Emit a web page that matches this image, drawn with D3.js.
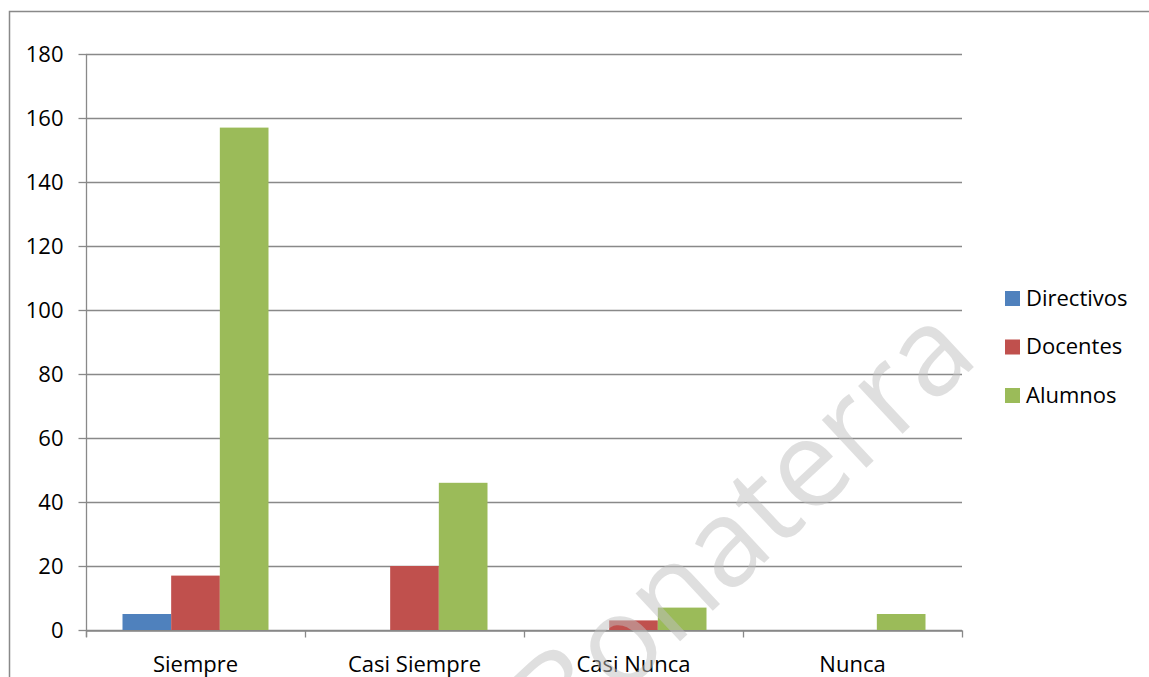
<!DOCTYPE html>
<html>
<head>
<meta charset="utf-8">
<script src="https://cdn.jsdelivr.net/npm/d3@7"></script>
<style>
  html, body { margin: 0; padding: 0; background: #fff; }
  svg { display: block; }
  text { font-family: "Open Sans", sans-serif; fill: #000; }
</style>
</head>
<body>
<svg id="chart" width="1149" height="677"></svg>
<script>
const categories = ["Siempre", "Casi Siempre", "Casi Nunca", "Nunca"];
const seriesNames = ["Directivos", "Docentes", "Alumnos"];
const directivos = [5, 0, 0, 0];
const docentes = [17, 20, 3, 0];
const alumnos = [157, 46, 7, 5];
const yTicks = [0, 20, 40, 60, 80, 100, 120, 140, 160, 180];
const colors = ["#4F81BD", "#C0504D", "#9BBB59"];
const watermark = "Bonaterra";

const seriesValues = [directivos, docentes, alumnos];

const svg = d3.select("#chart");
const plot = { left: 86, right: 962, top: 54, bottom: 630 };
const gridColor = "#898989";

// outer frame
svg.append("rect")
  .attr("x", 9.5).attr("y", 11.5)
  .attr("width", 1200).attr("height", 700)
  .attr("fill", "none").attr("stroke", gridColor).attr("stroke-width", 1.5);

const x0 = d3.scaleBand().domain(categories).range([plot.left, plot.right]).paddingInner(0).paddingOuter(0);
const x1 = d3.scaleBand().domain(seriesNames).range([0, x0.bandwidth()]).paddingInner(0).paddingOuter(0.75);
const y = d3.scaleLinear().domain([0, 180]).range([plot.bottom, plot.top]);

// gridlines
svg.append("g").selectAll("line").data(yTicks).join("line")
  .attr("x1", plot.left).attr("x2", plot.right)
  .attr("y1", d => Math.round(y(d)) + 0.5).attr("y2", d => Math.round(y(d)) + 0.5)
  .attr("stroke", gridColor).attr("stroke-width", 1.3);

// bars
const groups = svg.append("g").selectAll("g").data(categories).join("g")
  .attr("transform", c => `translate(${x0(c)},0)`);
groups.selectAll("rect")
  .data((c, i) => seriesNames.map((s, j) => ({ s, j, v: seriesValues[j][i] })))
  .join("rect")
  .attr("x", d => x1(d.s))
  .attr("width", x1.bandwidth())
  .attr("y", d => y(d.v))
  .attr("height", d => y(0) - y(d.v))
  .attr("fill", d => colors[d.j]);

// y axis
const yAxis = svg.append("g")
  .attr("transform", `translate(${plot.left + 0.5},0)`)
  .call(d3.axisLeft(y).tickValues(yTicks).tickSize(8).tickPadding(15).tickSizeOuter(0));
yAxis.select(".domain").attr("stroke", gridColor).attr("stroke-width", 1.3)
  .attr("d", `M0,${plot.top}V${plot.bottom + 7}`);
yAxis.selectAll(".tick line").attr("stroke", gridColor).attr("stroke-width", 1.3);
yAxis.selectAll(".tick text").attr("font-size", 22).attr("font-family", "'Open Sans', sans-serif").attr("fill", "#000");

// x axis
const xAxis = svg.append("g")
  .attr("transform", `translate(0,${plot.bottom + 0.5})`)
  .call(d3.axisBottom(x0).tickSize(0).tickPadding(26).tickSizeOuter(0));
xAxis.select(".domain").attr("stroke", gridColor).attr("stroke-width", 1.3);
xAxis.selectAll(".tick text").attr("font-size", 22).attr("font-family", "'Open Sans', sans-serif").attr("fill", "#000");
const bounds = categories.map(c => x0(c)).concat([x0(categories[categories.length - 1]) + x0.bandwidth()]);
xAxis.append("g").selectAll("line").data(bounds).join("line")
  .attr("x1", d => Math.round(d) + 0.5).attr("x2", d => Math.round(d) + 0.5)
  .attr("y1", 0).attr("y2", 7)
  .attr("stroke", gridColor).attr("stroke-width", 1.3);

// legend
const legend = svg.append("g").attr("transform", "translate(1005,298)");
const li = legend.selectAll("g").data(seriesNames).join("g")
  .attr("transform", (d, i) => `translate(0,${i * 48.5})`);
li.append("rect").attr("x", 0).attr("y", -7).attr("width", 15).attr("height", 15)
  .attr("fill", (d, i) => colors[i]);
li.append("text").attr("x", 21).attr("y", 0).attr("dy", "0.36em")
  .attr("font-size", 22).text(d => d);

// watermark
svg.append("text")
  .attr("transform", "translate(742,525) rotate(-43)")
  .attr("text-anchor", "middle").attr("dy", "0.35em")
  .attr("font-size", 122)
  .style("fill", "#c0c0c0").attr("fill-opacity", 0.5)
  .text(watermark);
</script>
</body>
</html>
